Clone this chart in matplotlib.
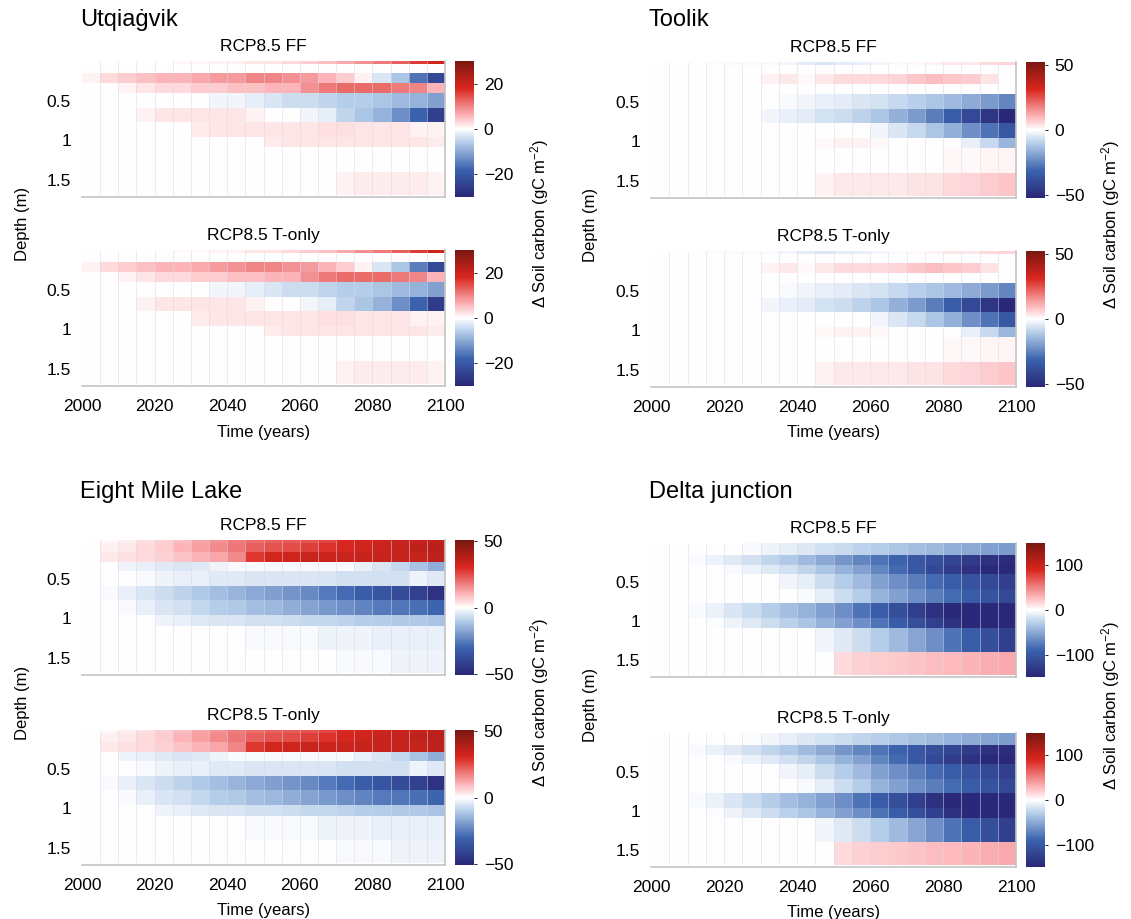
import numpy as np
import matplotlib
matplotlib.use("Agg")
import matplotlib.pyplot as plt
from matplotlib.colors import LinearSegmentedColormap

plt.rcParams["font.family"] = ["Liberation Sans", "DejaVu Sans"]
plt.rcParams["mathtext.fontset"] = "custom"
plt.rcParams["mathtext.rm"] = "Liberation Sans"
plt.rcParams["mathtext.it"] = "Liberation Sans:italic"

# 5-year time bins and soil layer interfaces (m)
year_edges = [2000, 2005, 2010, 2015, 2020, 2025, 2030, 2035, 2040, 2045, 2050,
              2055, 2060, 2065, 2070, 2075, 2080, 2085, 2090, 2095, 2100]
depth_edges = [0.0, 0.04, 0.15, 0.28, 0.40, 0.59, 0.77, 0.96, 1.09, 1.40, 1.70]
xtick_years = [2000, 2020, 2040, 2060, 2080, 2100]
depth_ticks = [0.5, 1, 1.5]
depth_ticklabels = ["0.5", "1", "1.5"]

site_names = ["Utqiaġvik", "Toolik", "Eight Mile Lake", "Delta junction"]
scenarios = ["RCP8.5 FF", "RCP8.5 T-only"]
color_limits = [30, 52, 51, 150]
cbar_ticks = [[-20, 0, 20], [-50, 0, 50], [-50, 0, 50], [-100, 0, 100]]

# change in soil carbon (gC m-2), one row per layer, one column per 5-yr bin
utq_ff = [
    [0, 0, 0, 0, 0, 0.5, 0.5, 1, 1, 2, 2, 3, 4, 5, 7, 9, 11, 13, 16, 19],
    [0, 0, 0, 0, 0, 0, 0, 0, 0, 0, 0, 0, 0, 0, 0, 0, 0, 0, 0, 0],
    [1, 3, 4, 5, 6, 6, 7, 8, 8, 10, 10, 9, 8, 6, 4, 1, -3, -7, -16, -23],
    [0, 0, 1, 2, 3, 3, 4, 4, 5, 5, 6, 6, 9, 11, 12, 12, 12, 11, 10, 6],
    [0, 0, 0, 0, 0, 0, 0, -1, -1, -2, -3, -4, -4, -5, -6, -6, -7, -8, -9, -11],
    [0, 0, 0, 1, 2, 2, 2, 2, 2, 1, 0, 0, -1, -2, -5, -7, -9, -13, -18, -25],
    [0, 0, 0, 0, 0, 0, 1.5, 2, 2, 2, 2, 2, 2, 2.5, 2.5, 2, 2, 2, 1, 1],
    [0, 0, 0, 0, 0, 0, 0, 0, 0, 0, 1.5, 2, 2, 2, 2, 2, 2, 2, 2, 1.5],
    [0, 0, 0, 0, 0, 0, 0, 0, 0, 0, 0, 0, 0, 0, 0, 0, 0, 0, 0, 0],
    [0, 0, 0, 0, 0, 0, 0, 0, 0, 0, 0, 0, 0, 0, 1, 1.5, 1.5, 1.5, 1.5, 1],
]
utq_tonly = [
    [0, 0, 0, 0, 0, 0.5, 0.5, 1, 1, 2, 2, 3, 4, 5, 7, 9, 11, 13, 16, 19],
    [0, 0, 0, 0, 0, 0, 0, 0, 0, 0, 0, 0, 0, 0, 0, 0, 0, 0, 0, 0],
    [1, 3, 4, 5, 6, 6, 7, 8, 9, 10, 10, 9, 8, 6, 4, 1, -3, -7, -15, -23],
    [0, 0, 1, 2, 3, 3, 4, 4, 5, 5, 6, 6, 9, 11, 12, 12, 12, 11, 10, 6],
    [0, 0, 0, 0, 0, 0, 0, -1, -1, -2, -3, -4, -4, -5, -6, -6, -7, -8, -9, -11],
    [0, 0, 0, 1, 2, 2, 2, 2, 2, 1, 0, 0, -1, -2, -5, -7, -9, -13, -18, -26],
    [0, 0, 0, 0, 0, 0, 1.5, 2, 2, 2, 2, 2, 2, 2.5, 2.5, 2, 2, 2, 1, 1],
    [0, 0, 0, 0, 0, 0, 0, 0, 0, 0, 1.5, 2, 2, 2, 2, 2, 2, 2, 2, 1.5],
    [0, 0, 0, 0, 0, 0, 0, 0, 0, 0, 0, 0, 0, 0, 0, 0, 0, 0, 0, 0],
    [0, 0, 0, 0, 0, 0, 0, 0, 0, 0, 0, 0, 0, 0, 1, 1.5, 1.5, 1.5, 1.5, 1],
]
toolik_ff = [
    [0, 0, 0, -0.5, -1, -1, -1, -2, -4, -5, -4, -3, -2, -1, 1, 2, 3, 3, 5, 6],
    [0, 0, 0, 0, 0, 0, 0, 0, 0, 0, 0, 0, 0, 0, 0, 0, 0, 0, 0, 0],
    [0, 0, 0, 0, 0, 0, 2, 3, 1, 3, 5, 5, 5, 6, 8, 9, 8, 7, 4, 0],
    [0, 0, 0, 0, 0, 0, 0, 0, 0, 0, 0, 0, 0, 0, 0, 0, 0, 0, 0, 0],
    [0, 0, 0, 0, 0, 0, 0, -1, -2, -3, -4, -5, -6, -8, -10, -12, -14, -17, -20, -24],
    [0, 0, 0, 0, 0, 0, -2, -3, -4, -6, -7, -9, -12, -16, -20, -26, -33, -40, -47, -52],
    [0, 0, 0, 0, 0, 0, 0, 0, 0, 0, 0, 0, -2, -5, -8, -12, -16, -22, -28, -35],
    [0, 0, 0, 0, 0, 0, 0, 0, 0, 1, 2, 2, 1, 0, 0, 0, 0, -3, -8, -15],
    [0, 0, 0, 0, 0, 0, 0, 0, 0, 0, 0, 0, 0, 0, 0, 0, 1, 1, 1.5, 1.5],
    [0, 0, 0, 0, 0, 0, 0, 0, 0, 2, 3, 3, 3, 3, 4, 4, 5, 6, 7, 8],
]
toolik_tonly = [
    [0, 0, 0, -0.5, -1, -1, -1, -2, -4, -5, -4, -3, -2, -1, 1, 2, 3, 3, 5, 6],
    [0, 0, 0, 0, 0, 0, 0, 0, 0, 0, 0, 0, 0, 0, 0, 0, 0, 0, 0, 0],
    [0, 0, 0, 0, 0, 0, 2, 3, 1, 3, 5, 5, 5, 6, 8, 9, 8, 7, 4, 0],
    [0, 0, 0, 0, 0, 0, 0, 0, 0, 0, 0, 0, 0, 0, 0, 0, 0, 0, 0, 0],
    [0, 0, 0, 0, 0, 0, 0, -1, -2, -3, -4, -5, -6, -8, -10, -12, -14, -17, -20, -24],
    [0, 0, 0, 0, 0, 0, -2, -3, -4, -6, -7, -9, -12, -16, -20, -26, -33, -40, -47, -52],
    [0, 0, 0, 0, 0, 0, 0, 0, 0, 0, 0, 0, -2, -5, -8, -12, -16, -22, -28, -35],
    [0, 0, 0, 0, 0, 0, 0, 0, 0, 1, 2, 2, 1, 0, 0, 0, 0, -3, -8, -15],
    [0, 0, 0, 0, 0, 0, 0, 0, 0, 0, 0, 0, 0, 0, 0, 0, 1, 1, 1.5, 1.5],
    [0, 0, 0, 0, 0, 0, 0, 0, 0, 2, 3, 3, 3, 3, 4, 4, 5, 6, 7, 8],
]
eml_ff = [
    [0, 1, 2, 4, 6, 9, 12, 15, 18, 20, 22, 23, 24, 26, 30, 32, 33, 34, 35, 36],
    [0, 2, 3, 5, 7, 10, 13, 16, 19, 22, 24, 25, 27, 29, 31, 33, 34, 35, 36, 37],
    [0, 3, 4, 5, 6, 8, 10, 12, 16, 28, 32, 33, 34, 34, 34, 35, 35, 35, 35, 36],
    [0, 0, -2, -3, -4, -5, -4, -2, -1, -1, -1, -1, -1, -1, -1, -3, -5, -8, -12, -16],
    [0, 0, 0, -1, -2, -3, -3, -4, -4, -5, -5, -5, -5, -5, -6, -6, -6, -6, -2, -4],
    [0, -1, -3, -5, -7, -9, -11, -13, -15, -17, -19, -21, -23, -26, -29, -32, -35, -38, -42, -47],
    [0, 0, -1, -3, -5, -6, -8, -10, -11, -13, -14, -16, -18, -20, -22, -24, -26, -27, -28, -30],
    [0, 0, 0, 0, -2, -3, -4, -5, -5, -6, -6, -7, -8, -8, -9, -10, -10, -11, -11, -12],
    [0, 0, 0, 0, 0, 0, 0, 0, 0, -1, -1, -1, -1, -2, -2, -2, -3, -3, -3, -3],
    [0, 0, 0, 0, 0, 0, 0, 0, 0, 0, 0, 0, 0, 0, -1, -1, -1, -2, -2, -2],
]
eml_tonly = [
    [0, 1, 2, 4, 6, 9, 12, 15, 18, 20, 22, 23, 24, 26, 30, 32, 33, 34, 35, 36],
    [0, 2, 3, 5, 7, 10, 13, 16, 19, 22, 24, 25, 27, 29, 31, 33, 34, 35, 36, 37],
    [0, 3, 4, 5, 6, 8, 10, 12, 17, 28, 32, 33, 34, 34, 34, 35, 35, 35, 35, 36],
    [0, 0, -2, -3, -4, -5, -4, -2, -1, -1, -1, -1, -1, -1, -1, -3, -5, -8, -12, -16],
    [0, 0, 0, -1, -2, -3, -3, -4, -4, -5, -5, -5, -5, -5, -6, -6, -6, -6, -2, -4],
    [0, -1, -3, -5, -7, -9, -11, -13, -15, -17, -19, -21, -23, -26, -29, -32, -35, -38, -42, -47],
    [0, 0, -1, -3, -5, -6, -8, -10, -11, -13, -14, -16, -18, -20, -22, -24, -26, -27, -28, -30],
    [0, 0, 0, 0, -2, -3, -4, -5, -5, -6, -6, -7, -8, -8, -9, -10, -10, -11, -11, -12],
    [0, 0, 0, 0, 0, 0, 0, 0, 0, -1, -1, -1, -1, -2, -2, -2, -3, -3, -3, -3],
    [0, 0, 0, 0, 0, 0, 0, 0, 0, 0, 0, 0, 0, 0, -1, -1, -1, -2, -2, -2],
]
delta_ff = [
    [0, 0, 0, 0, 0, -3, -6, -10, -14, -18, -22, -26, -30, -34, -38, -42, -46, -50, -54, -58],
    [0, 0, 0, 0, 0, -3, -6, -10, -14, -18, -22, -26, -30, -34, -38, -42, -46, -50, -54, -58],
    [0, 0, -3, -8, -12, -18, -25, -32, -40, -50, -60, -70, -80, -90, -100, -110, -120, -130, -140, -145],
    [0, 0, 0, 0, -3, -8, -12, -18, -25, -35, -45, -55, -70, -85, -100, -115, -130, -140, -148, -150],
    [0, 0, 0, 0, 0, 0, 0, -5, -10, -20, -30, -40, -55, -65, -75, -85, -95, -105, -115, -125],
    [0, 0, 0, 0, 0, 0, 0, 0, -3, -10, -20, -30, -45, -55, -65, -75, -85, -95, -105, -115],
    [0, 0, -3, -8, -15, -22, -30, -38, -45, -55, -65, -80, -95, -110, -125, -140, -150, -150, -150, -150],
    [0, 0, 0, -2, -6, -12, -20, -28, -35, -45, -55, -65, -80, -95, -110, -125, -140, -150, -150, -150],
    [0, 0, 0, 0, 0, 0, 0, 0, 0, -5, -12, -20, -30, -40, -52, -65, -80, -95, -110, -125],
    [0, 0, 0, 0, 0, 0, 0, 0, 0, 0, 15, 18, 20, 22, 24, 26, 28, 30, 32, 35],
]
delta_tonly = [
    [0, 0, 0, 0, 0, -2, -5, -9, -13, -17, -21, -25, -29, -33, -37, -41, -45, -49, -53, -57],
    [0, 0, 0, 0, 0, -2, -5, -9, -13, -17, -21, -25, -29, -33, -37, -41, -45, -49, -53, -57],
    [0, 0, -3, -8, -12, -18, -25, -32, -40, -50, -60, -70, -80, -90, -100, -110, -120, -130, -140, -145],
    [0, 0, 0, 0, -3, -8, -12, -18, -25, -35, -45, -55, -70, -85, -100, -115, -130, -140, -148, -150],
    [0, 0, 0, 0, 0, 0, 0, -5, -10, -20, -30, -40, -55, -65, -75, -85, -95, -105, -115, -125],
    [0, 0, 0, 0, 0, 0, 0, 0, -3, -10, -20, -30, -45, -55, -65, -75, -85, -95, -105, -115],
    [0, 0, -3, -8, -15, -22, -30, -38, -45, -55, -65, -80, -95, -110, -125, -140, -150, -150, -150, -150],
    [0, 0, 0, -2, -6, -12, -20, -28, -35, -45, -55, -65, -80, -95, -110, -125, -140, -150, -150, -150],
    [0, 0, 0, 0, 0, 0, 0, 0, 0, -5, -12, -20, -30, -40, -52, -65, -80, -95, -110, -125],
    [0, 0, 0, 0, 0, 0, 0, 0, 0, 0, 15, 18, 20, 22, 24, 26, 28, 30, 32, 35],
]
site_data = [(utq_ff, utq_tonly), (toolik_ff, toolik_tonly),
             (eml_ff, eml_tonly), (delta_ff, delta_tonly)]

cmap = LinearSegmentedColormap.from_list("soilc", [
    (0.0, "#2a2878"), (0.2, "#3b62ad"), (0.4, "#b4cde9"), (0.5, "#ffffff"),
    (0.6, "#fcb4b8"), (0.8, "#d9261e"), (1.0, "#7a1711")])

# layout in pixels: axes x-range, colorbar x-range, panel rows (top, bottom)
W, H = 1131, 919
layout = [
    dict(ax_x=(82, 445), cb_x=(455, 474), rows=[(61, 197), (250, 386)], top=0),
    dict(ax_x=(651, 1016), cb_x=(1026, 1045), rows=[(62, 198), (251, 387)], top=0),
    dict(ax_x=(82, 445), cb_x=(455, 474), rows=[(540, 675), (730, 865)], top=472),
    dict(ax_x=(651, 1016), cb_x=(1026, 1045), rows=[(543, 677), (733, 867)], top=472),
]

fig = plt.figure(figsize=(W / 100, H / 100), dpi=100)


def add_px(x0, y0, x1, y1):
    return fig.add_axes([x0 / W, 1 - y1 / H, (x1 - x0) / W, (y1 - y0) / H])


for name, data, lim, cticks, lay in zip(site_names, site_data, color_limits, cbar_ticks, layout):
    x0, x1 = lay["ax_x"]
    for k, (scen, vals) in enumerate(zip(scenarios, data)):
        y0, y1 = lay["rows"][k]
        ax = add_px(x0, y0, x1, y1)
        mesh = ax.pcolormesh(year_edges, depth_edges, np.array(vals), cmap=cmap,
                             vmin=-lim, vmax=lim, shading="flat", linewidth=0)
        # faint seams between the time bins, as in the exported original
        ax.vlines(year_edges[1:-1], 0, depth_edges[-1], color="#dcd8ec",
                  linewidth=0.6, alpha=0.6, zorder=2)
        ax.set_xlim(2000, 2100)
        ax.set_ylim(1.72, 0)
        for side in ["top", "left"]:
            ax.spines[side].set_visible(False)
        for side in ["bottom", "right"]:
            ax.spines[side].set_color("#c4c4c4")
            ax.spines[side].set_linewidth(1.2)
        ax.set_yticks(depth_ticks)
        ax.set_yticklabels(depth_ticklabels)
        ax.set_xticks(xtick_years)
        if k == 0:
            ax.set_xticklabels([])
        ax.tick_params(length=0, labelsize=12.5)
        ax.tick_params(axis="y", pad=8)
        ax.tick_params(axis="x", pad=9)
        ax.set_title(scen, fontsize=12.5, pad=7)

        cax = add_px(lay["cb_x"][0], y0, lay["cb_x"][1], y1)
        cb = fig.colorbar(mesh, cax=cax, ticks=cticks)
        cb.outline.set_visible(False)
        cb.ax.tick_params(length=2, width=0.6, labelsize=12.5, pad=5)

    top = lay["top"]
    fig.text((x0 - 2) / W, 1 - (top + 20) / H, name, fontsize=17, ha="left", va="center")
    mid = (lay["rows"][0][0] + lay["rows"][1][1]) / 2
    fig.text((x0 - 60) / W, 1 - mid / H, "Depth (m)", rotation=90, fontsize=12,
             ha="center", va="center")
    fig.text((lay["cb_x"][1] + 66) / W, 1 - mid / H, "Δ Soil carbon (gC m$^{-2}$)",
             rotation=90, fontsize=12, ha="center", va="center")
    fig.text((x0 + x1) / 2 / W, 1 - (lay["rows"][1][1] + 46) / H, "Time (years)",
             fontsize=12, ha="center", va="center")

fig.savefig("out.png", dpi=100)
